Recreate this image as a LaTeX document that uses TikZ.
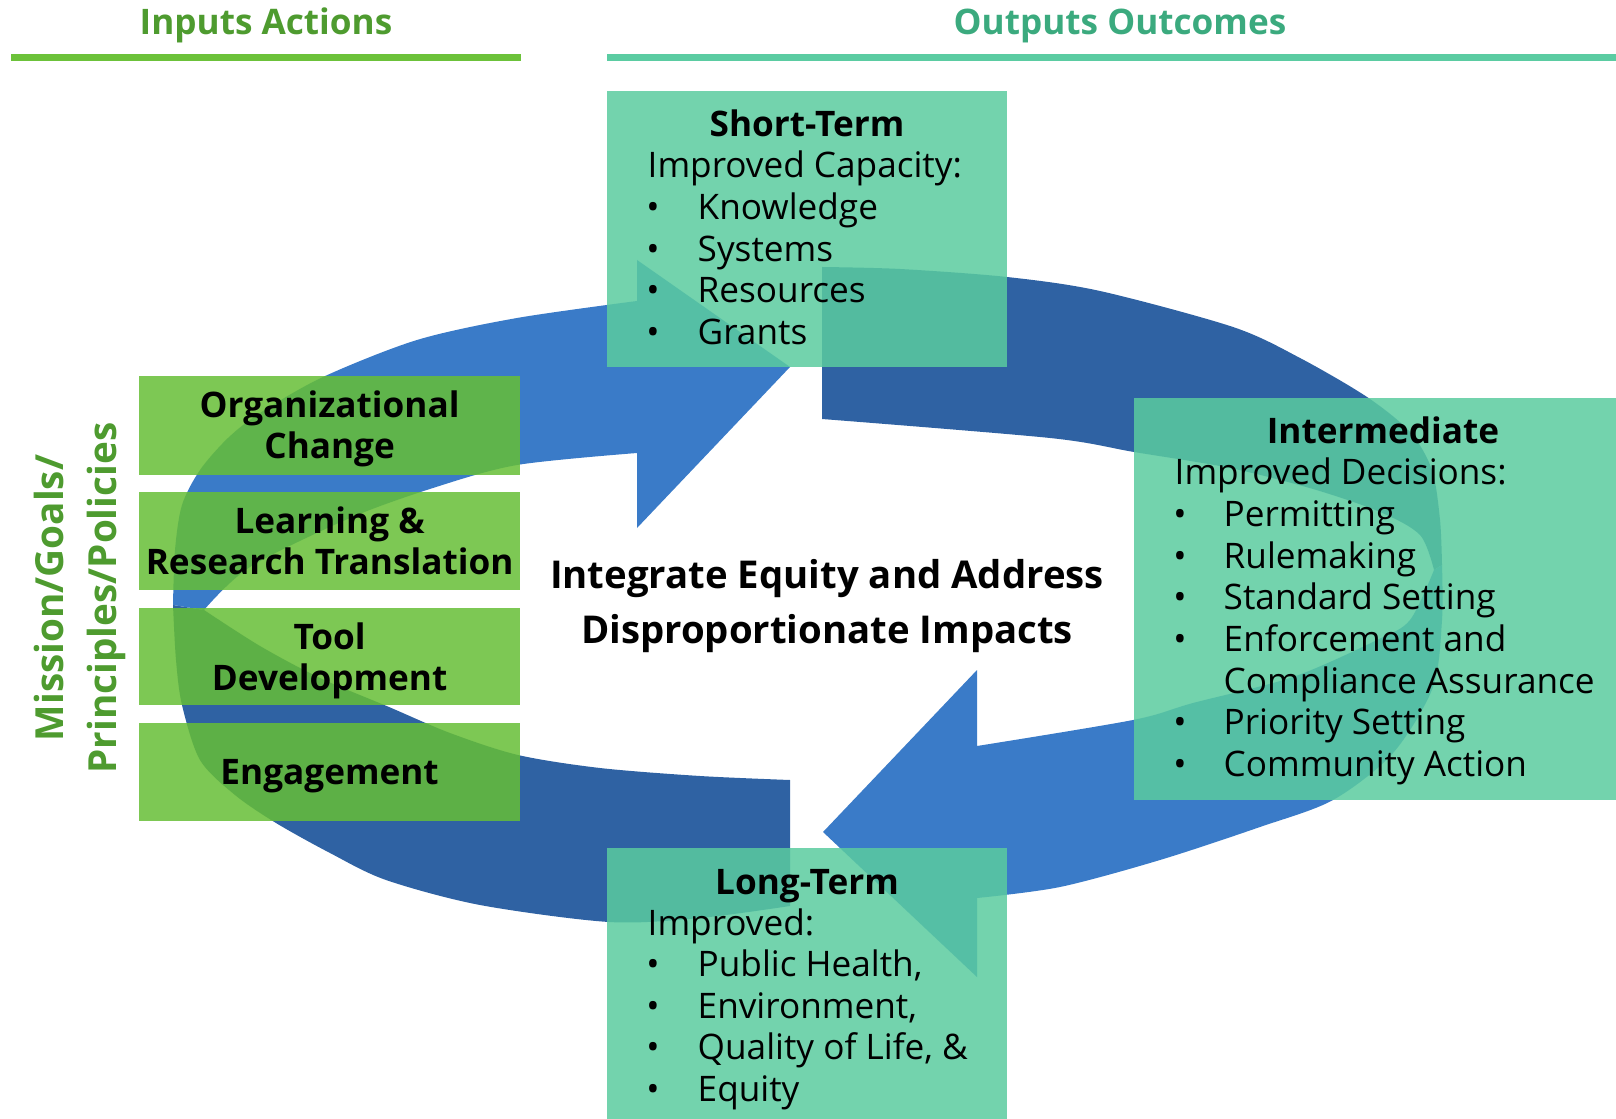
\documentclass[tikz,border=0pt]{standalone}
\usepackage{fontspec}
\setmainfont{Open Sans}

\definecolor{ringLight}{HTML}{3A7BC8}
\definecolor{ringDark}{HTML}{2F62A3}
\definecolor{boxTeal}{HTML}{5ACB9F}
\definecolor{boxGreen}{HTML}{66BE36}
\definecolor{ruleGreen}{HTML}{6CC23A}
\definecolor{ruleTeal}{HTML}{5BCCA2}
\definecolor{headGreen}{HTML}{4E9B2F}
\definecolor{headTeal}{HTML}{3BAA7E}

\begin{document}
\begin{tikzpicture}[x=0.01cm,y=-0.01cm,
    band/.style={smooth,tension=.5},
    panel/.style={inner sep=0pt,outer sep=0pt,anchor=north west,
      fill opacity=.85,text opacity=1},
    tealpanel/.style={panel,fill=boxTeal},
    greenpanel/.style={panel,fill=boxGreen,minimum width=3.81cm,align=center,
      font=\fontsize{10}{11.7}\selectfont\bfseries},
    title/.style={anchor=base,inner sep=0pt,font=\fontsize{10}{12}\selectfont\bfseries},
    entry/.style={anchor=base west,inner sep=0pt,font=\fontsize{10}{12}\selectfont},
    dot/.style={anchor=base,inner sep=0pt,font=\fontsize{10}{12}\selectfont},
    banner/.style={anchor=base,inner sep=0pt,font=\fontsize{10}{12}\selectfont\bfseries}]
\useasboundingbox (0,0) rectangle (1616,1119);

% headers
\node[banner,text=headGreen] (inputs) at (266,35) {Inputs Actions};
\node[banner,text=headTeal] (outputs) at (1120,35) {Outputs Outcomes};
\fill[ruleGreen] (11,54) rectangle (521,61);
\fill[ruleTeal] (607,54) rectangle (1616,61);

% left arrow, tail at the bottom
\fill[ringDark] (790,906) -- (790,780)
  -- plot[band] coordinates {(790,780) (700,776) (600,768) (518,755) (450,733) (389,707)
       (320,678) (260,646) (204,610)}
  -- plot[band] coordinates {(173,605) (176,660) (182,705) (200,760) (235,795) (276,823)
       (330,853) (386,880) (480,905) (609,922) (700,918) (790,906)}
  -- cycle;
\fill[ringLight] (637,301) -- (637,260) -- (790,367) -- (637,528) -- (637,453)
  -- plot[band] coordinates {(637,453) (517,465) (433,488) (350,518) (250,567) (204,610)}
  -- plot[band] coordinates {(173,605) (175,550) (182,505) (200,470) (228,438) (260,413)
       (323,377) (417,340) (517,318) (637,301)}
  -- cycle;

% right arrow, tail at the top
\fill[ringDark] (822,267) -- (822,419)
  -- plot[band] coordinates {(822,419) (1050,438) (1134,452) (1230,468) (1313,489)
       (1380,512) (1420,535) (1434,570)}
  -- plot[band] coordinates {(1442,565) (1440,520) (1432,470) (1410,432) (1367,397)
       (1300,358) (1233,327) (1100,291) (1007,277) (900,269) (822,267)}
  -- cycle;
\fill[ringLight] (977,746) -- (977,670) -- (823,832) -- (977,977) -- (977,898)
  -- plot[band] coordinates {(977,898) (1060,887) (1160,860) (1260,827) (1333,800)
       (1393,753) (1433,687) (1442,620) (1442,565)}
  -- plot[band] coordinates {(1434,570) (1410,620) (1377,640) (1293,677) (1193,703)
       (1133,720) (977,746)}
  -- cycle;

% outcome panels
\node[tealpanel,minimum width=4cm,minimum height=2.76cm] (shortBox) at (607,91) {};
\node[tealpanel,minimum width=4.82cm,minimum height=4.02cm] (midBox) at (1134,398) {};
\node[tealpanel,minimum width=4cm,minimum height=2.71cm] (longBox) at (607,848) {};

% action panels
\foreach \nm/\ya/\yb/\dy/\txt in {orgBox/376/475/0.9/{Organizational\\Change},
    learnBox/492/590/0/{Learning \&\\Research Translation},
    toolBox/608/705/1.2/{Tool\\Development},
    engageBox/723/821/1.2/{Engagement}}{
  \pgfmathsetmacro\hh{(\yb-\ya)/100}
  \node[greenpanel,minimum height=\hh cm] (\nm) at (139,\ya) {};
  \node[align=center,font=\fontsize{10}{11.7}\selectfont\bfseries,yshift=-\dy pt]
    (\nm Text) at (\nm.center) {\txt};
}

\node[rotate=90,align=center,text=headGreen,
  font=\fontsize{11}{15.2}\selectfont\bfseries] (mission) at (80,598)
  {Mission/Goals/\\Principles/Policies};

\node[align=center,font=\fontsize{10.9}{15.6}\selectfont\bfseries] (goal) at (827,606)
  {Integrate Equity and Address\\Disproportionate Impacts};

% short-term
\node[title] (shortHead) at (807,137) {Short-Term};
\node[entry] (shortSub) at (647,178) {Improved Capacity:};
\foreach \txt [count=\k] in {Knowledge,Systems,Resources,Grants}{
  \node[dot] (shortDot\k) at (653,{178+41.6*\k}) {\textbullet};
  \node[entry] (shortItem\k) at (697,{178+41.6*\k}) {\txt};
}

% intermediate
\node[title] (midHead) at (1383,444) {Intermediate};
\node[entry] (midSub) at (1174,485) {Improved Decisions:};
\foreach \txt/\b [count=\k] in {Permitting/1,Rulemaking/1,Standard Setting/1,
    Enforcement and/1,Compliance Assurance/0,Priority Setting/1,Community Action/1}{
  \ifnum\b=1 \node[dot] (midDot\k) at (1180,{485+41.6*\k}) {\textbullet};\fi
  \node[entry] (midItem\k) at (1223,{485+41.6*\k}) {\txt};
}

% long-term
\node[title] (longHead) at (807,894) {Long-Term};
\node[entry] (longSub) at (647,935) {Improved:};
\foreach \txt [count=\k] in {{Public Health,},{Environment,},{Quality of Life, \&},Equity}{
  \node[dot] (longDot\k) at (653,{935+41.6*\k}) {\textbullet};
  \node[entry] (longItem\k) at (697,{935+41.6*\k}) {\txt};
}
\end{tikzpicture}
\end{document}
